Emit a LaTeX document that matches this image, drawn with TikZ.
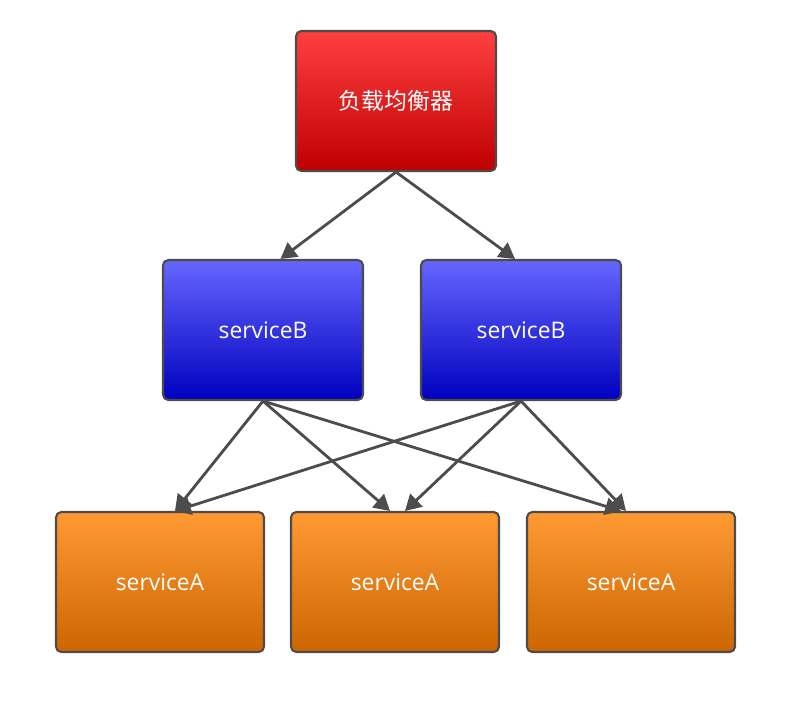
\documentclass[tikz,border=0pt]{standalone}
\usepackage{fontspec}
\setmainfont{Open Sans}
\newfontfamily\cjk{Noto Sans CJK SC}
\usetikzlibrary{arrows.meta}
\tikzset{
  box/.style={draw=black!70, line width=1.2pt, rounded corners=3pt,
    minimum width=4cm, minimum height=2.8cm, text=white, font=\fontsize{13}{15}\selectfont},
  lbbox/.style={box, top color=red!75!white, bottom color=red!75!black},
  bbox/.style={box, top color=blue!60!white, bottom color=blue!75!black},
  abox/.style={box, minimum width=4.16cm, top color=orange!80!white, bottom color=orange!80!black},
  link/.style={draw=black!70, line width=1.6pt, -{Triangle[length=9pt,width=10pt]}}
}
\begin{document}
\begin{tikzpicture}[x=0.02cm,y=-0.02cm]
\useasboundingbox (0,0) rectangle (786,700);
\node[lbbox] (lb) at (396,101) {\cjk 负载均衡器};
\node[bbox] (b1) at (263,330) {serviceB};
\node[bbox] (b2) at (521,330) {serviceB};
\node[abox] (a1) at (160,582) {serviceA};
\node[abox] (a2) at (395,582) {serviceA};
\node[abox] (a3) at (631,582) {serviceA};
% load balancer to B
\draw[link] (lb.south) -- ([xshift=0.35cm]b1.north);
\draw[link] (lb.south) -- ([xshift=-0.12cm]b2.north);
% B to A
\draw[link] (b1.south) -- ([xshift=0.3cm]a1.north);
\draw[link] (b1.south) -- ([xshift=-0.1cm]a2.north);
\draw[link] (b1.south) -- ([xshift=-0.2cm]a3.north);
\draw[link] (b2.south) -- ([xshift=0.3cm]a1.north);
\draw[link] (b2.south) -- ([xshift=0.2cm]a2.north);
\draw[link] (b2.south) -- ([xshift=-0.1cm]a3.north);
\end{tikzpicture}
\end{document}
